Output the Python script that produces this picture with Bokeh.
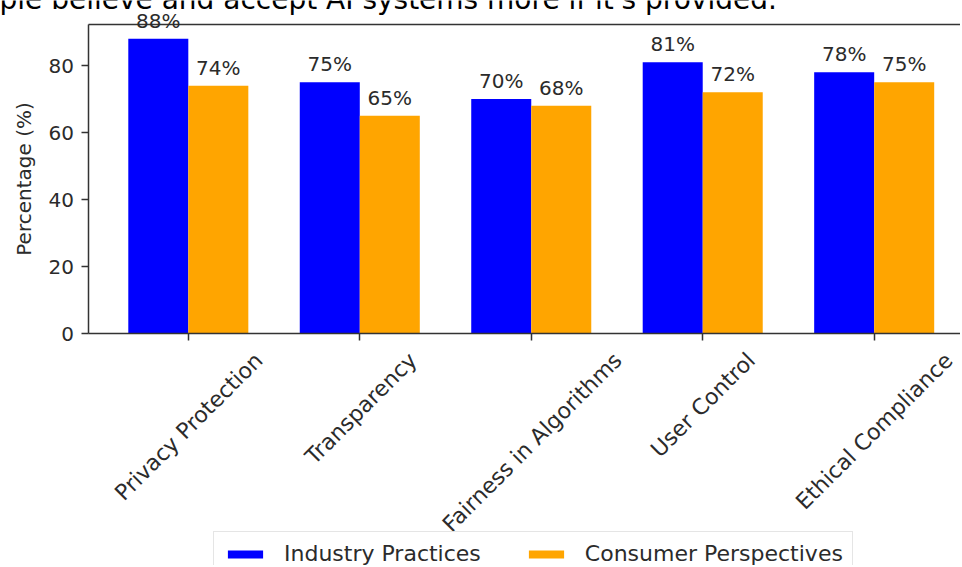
import math
from bokeh.plotting import figure
from bokeh.models import (Range1d, FixedTicker, Label, LabelSet, LinearAxis,
                          ColumnDataSource, Legend, LegendItem)
from bokeh.core.properties import value
from bokeh.embed import file_html
from bokeh.resources import INLINE

# ---- data ----
categories = ["Privacy Protection", "Transparency", "Fairness in Algorithms",
              "User Control", "Ethical Compliance"]
industry = [88, 75, 70, 81, 78]
consumer = [74, 65, 68, 72, 75]
series_names = ["Industry Practices", "Consumer Perspectives"]
y_ticks = [0, 20, 40, 60, 80]
y_label = "Percentage (%)"
title_text = "ple believe and accept AI systems more if it's provided."

# ---- layout / style constants ----
FONT = "DejaVu Sans"
TXT = "#2b2b2b"
LINE = "#333333"
W, H = 960, 565
AX_L, AX_T, AX_R, AX_B = 87.5, 23.5, 974.0, 333.0   # pixel box of the axes
BAR_W = 0.35
XLIM = (-0.585, 4.585)
YLIM = (0.0, 92.4)
px_x = (AX_R - AX_L) / (XLIM[1] - XLIM[0])
px_y = (AX_B - AX_T) / (YLIM[1] - YLIM[0])
x_start = XLIM[0] - AX_L / px_x
x_end = XLIM[0] + (W - AX_L) / px_x
y_start = YLIM[0] - (H - AX_B) / px_y
y_end = YLIM[1] + AX_T / px_y

# DejaVu Sans advance widths (em), used to centre the rotated labels
CW = {' ': .318, 'A': .684, 'C': .698, 'E': .632, 'F': .575, 'I': .295, 'P': .603,
      'T': .611, 'U': .732, 'a': .613, 'b': .635, 'c': .550, 'd': .635, 'e': .615,
      'f': .352, 'g': .635, 'h': .634, 'i': .278, 'l': .278, 'm': .974, 'n': .634,
      'o': .612, 'p': .635, 'r': .411, 's': .521, 't': .392, 'u': .634, 'v': .592,
      'y': .592}

def text_len(s, size):
    return sum(CW.get(ch, 0.6) for ch in s) * size

p = figure(width=W, height=H, output_backend="svg", toolbar_location=None,
           x_range=Range1d(x_start, x_end), y_range=Range1d(y_start, y_end),
           min_border=0, min_border_left=0, min_border_right=0,
           min_border_top=0, min_border_bottom=0,
           background_fill_color="white", border_fill_color="white",
           outline_line_color=None)
p.title.visible = False

idx = list(range(len(categories)))
src = ColumnDataSource(dict(
    x_ind=[i - BAR_W / 2 for i in idx],
    x_con=[i + BAR_W / 2 for i in idx],
    ind=industry, con=consumer,
    ind_lbl=[f"{v}%" for v in industry],
    con_lbl=[f"{v}%" for v in consumer],
))

r1 = p.vbar(x='x_ind', top='ind', width=BAR_W, source=src,
            fill_color="#0000ff", line_color=None)
r2 = p.vbar(x='x_con', top='con', width=BAR_W, source=src,
            fill_color="#ffa500", line_color=None)

for xf, yf, tf in (("x_ind", "ind", "ind_lbl"), ("x_con", "con", "con_lbl")):
    p.add_layout(LabelSet(x=xf, y=yf, text=tf, source=src, text_align="center",
                          text_baseline="alphabetic", y_offset=11,
                          text_font_size="20px", text_color=TXT,
                          text_font=value(FONT)))

# ---- axes drawn at fixed locations (spines) ----
def style_axis(ax):
    ax.axis_line_color = LINE
    ax.axis_line_width = 1.5
    ax.major_tick_line_color = LINE
    ax.major_tick_line_width = 1.5
    ax.major_tick_in = 0
    ax.major_tick_out = 7
    ax.minor_tick_line_color = None

# y axis (left spine)
yax = p.yaxis[0]
style_axis(yax)
yax.fixed_location = XLIM[0]
yax.bounds = YLIM
yax.ticker = FixedTicker(ticks=y_ticks)
yax.major_label_text_font_size = "20px"
yax.major_label_text_font = FONT
yax.major_label_text_color = TXT
yax.major_label_standoff = 7
yax.axis_label = y_label
yax.axis_label_text_font = FONT
yax.axis_label_text_font_size = "20px"
yax.axis_label_text_font_style = "normal"
yax.axis_label_text_color = TXT
yax.axis_label_standoff = 10

# x axis (bottom spine): tick marks at categories (minor ticks),
# rotated labels anchored so that each label is centred under its tick
TS = 22
lab_pos = [round(i + 0.35355 * text_len(c, TS) / px_x, 4) for i, c in zip(idx, categories)]
xax = p.xaxis[0]
style_axis(xax)
xax.fixed_location = YLIM[0]
xax.bounds = XLIM
xax.ticker = FixedTicker(ticks=lab_pos, minor_ticks=idx)
xax.major_tick_line_color = None
xax.major_tick_out = 0
xax.minor_tick_line_color = LINE
xax.minor_tick_line_width = 1.5
xax.minor_tick_in = 0
xax.minor_tick_out = 7
xax.major_label_overrides = {pos: c for pos, c in zip(lab_pos, categories)}
xax.major_label_orientation = math.pi / 4
xax.major_label_text_font_size = f"{TS}px"
xax.major_label_text_font = FONT
xax.major_label_text_color = TXT
xax.major_label_standoff = 16

# top spine
top = LinearAxis(fixed_location=YLIM[1], bounds=XLIM, ticker=FixedTicker(ticks=[]),
                 axis_line_color=LINE, axis_line_width=1.5,
                 major_tick_line_color=None, minor_tick_line_color=None,
                 major_label_text_font_size="0px")
p.add_layout(top, "above")

p.xgrid.visible = False
p.ygrid.visible = False

# partial title at top (cut by the canvas edge like the reference)
p.add_layout(Label(x=x_start - 1 / px_x, y=y_end + 1 / px_y,
                   text=title_text, text_font=FONT, text_font_size="28px",
                   text_color="black", text_align="left", text_baseline="alphabetic"))

legend = Legend(items=[LegendItem(label=series_names[0], renderers=[r1]),
                       LegendItem(label=series_names[1], renderers=[r2])],
                location=(213, -11), orientation="horizontal", padding=9, margin=0,
                spacing=43, label_standoff=17, glyph_width=44, glyph_height=10,
                label_text_font=FONT, label_text_font_size="22px",
                label_text_color=TXT, border_line_color="#cccccc",
                border_line_width=1, background_fill_alpha=0.8)
p.add_layout(legend, "center")

open("out.html", "w").write(file_html(p, INLINE))
